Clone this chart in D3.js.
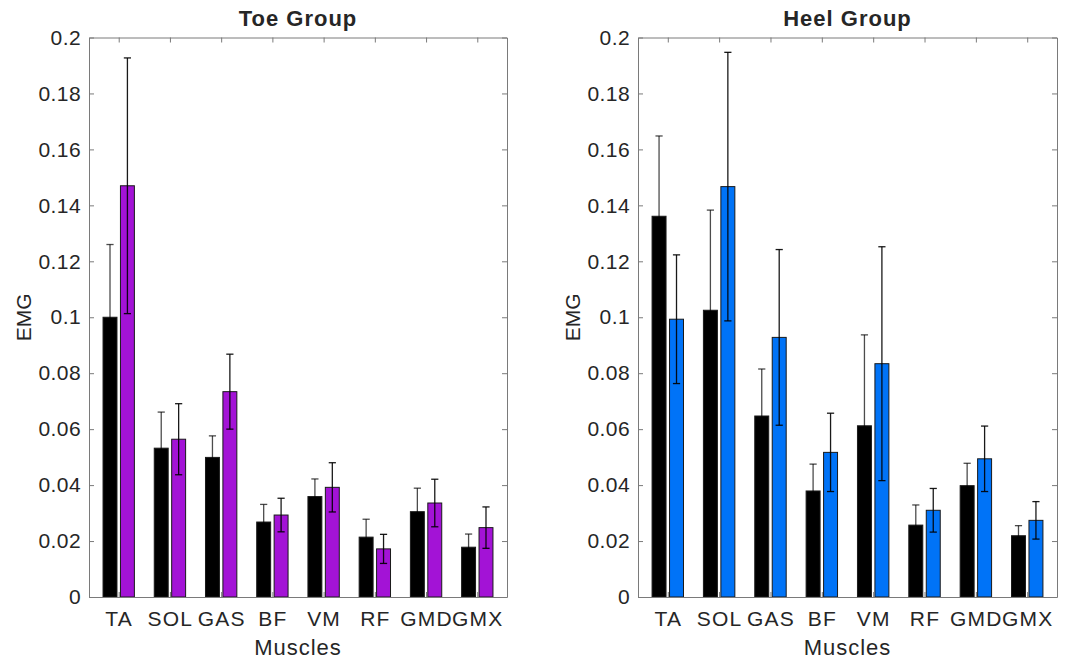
<!DOCTYPE html>
<html>
<head>
<meta charset="utf-8">
<script src="https://cdn.jsdelivr.net/npm/d3@7"></script>
<style>
  html, body { margin: 0; padding: 0; background: #fff; }
  svg { display: block; }
  text { font-family: Arial, "Liberation Sans", Helvetica, sans-serif; fill: #262626; }
</style>
</head>
<body>
<svg id="chart" width="1068" height="664"></svg>
<script>
// Muscle groups on the x axis
const muscles = ["TA", "SOL", "GAS", "BF", "VM", "RF", "GMD", "GMX"];
const yTicks = [0, 0.02, 0.04, 0.06, 0.08, 0.1, 0.12, 0.14, 0.16, 0.18, 0.2];

// Toe group: mean EMG and standard deviation, two conditions
const toeBlack    = [0.100, 0.0532, 0.0499, 0.0268, 0.0359, 0.0214, 0.0305, 0.0178];
const toeBlackSD  = [0.026, 0.0129, 0.0077, 0.0063, 0.0063, 0.0064, 0.0084, 0.0047];
const toePurple   = [0.147, 0.0564, 0.0734, 0.0293, 0.0392, 0.0172, 0.0336, 0.0248];
const toePurpleSD = [0.0457, 0.0127, 0.0134, 0.0060, 0.0088, 0.0052, 0.0085, 0.0074];

// Heel group: mean EMG and standard deviation, two conditions
const heelBlack   = [0.1361, 0.1025, 0.0647, 0.0379, 0.0612, 0.0257, 0.0398, 0.0219];
const heelBlackSD = [0.0287, 0.0358, 0.0168, 0.0096, 0.0325, 0.0072, 0.0080, 0.0036];
const heelBlue    = [0.0993, 0.1467, 0.0928, 0.0517, 0.0834, 0.0310, 0.0494, 0.0274];
const heelBlueSD  = [0.0230, 0.0480, 0.0314, 0.0140, 0.0418, 0.0078, 0.0117, 0.0067];

const svg = d3.select("#chart");
const yTop = 37.5, yBottom = 597;

function drawPanel(opts) {
  const { x0, x1, title, series } = opts;
  const g = svg.append("g");

  const x = d3.scaleLinear().domain([0.42, 8.58]).range([x0, x1]);
  const y = d3.scaleLinear().domain([0, 0.2]).range([yBottom, yTop]);
  const unit = x(2) - x(1);
  const barW = 0.272 * unit;
  const offs = [-0.17, 0.17];

  // white plot background
  g.append("rect").attr("x", x0).attr("y", yTop)
    .attr("width", x1 - x0).attr("height", yBottom - yTop).attr("fill", "#fff");

  // bars
  series.forEach((s, si) => {
    g.append("g").selectAll("rect").data(s.values).join("rect")
      .attr("x", (d, i) => x(i + 1 + offs[si]) - barW / 2)
      .attr("y", d => y(d))
      .attr("width", barW)
      .attr("height", d => y(0) - y(d))
      .attr("fill", s.color)
      .attr("stroke", "#1a1a1a")
      .attr("stroke-width", 1);
  });

  // error bars (black, semi-transparent so they read grey over white)
  series.forEach((s, si) => {
    const eg = g.append("g").attr("stroke", "#000").attr("stroke-opacity", s.errOpacity)
      .attr("stroke-width", 1.3).attr("fill", "none");
    s.values.forEach((v, i) => {
      const cx = x(i + 1 + offs[si]);
      const lo = y(v - s.sd[i]), hi = y(v + s.sd[i]);
      eg.append("line").attr("x1", cx).attr("x2", cx).attr("y1", lo).attr("y2", hi);
      eg.append("line").attr("x1", cx - 3.6).attr("x2", cx + 3.6).attr("y1", hi).attr("y2", hi);
      eg.append("line").attr("x1", cx - 3.6).attr("x2", cx + 3.6).attr("y1", lo).attr("y2", lo);
    });
  });

  const axisColor = "#7a7a7a";
  const fmt = d => d === 0 ? "0" : d3.format("")(+d.toFixed(2));

  // left y axis
  const yAxis = g.append("g").attr("transform", `translate(${x0},0)`)
    .call(d3.axisLeft(y).tickValues(yTicks).tickFormat(fmt).tickSizeInner(-5).tickSizeOuter(0).tickPadding(8));
  // right mirror ticks
  const yAxisR = g.append("g").attr("transform", `translate(${x1},0)`)
    .call(d3.axisRight(y).tickValues(yTicks).tickFormat("").tickSizeInner(-5).tickSizeOuter(0));
  // bottom x axis
  const xAxis = g.append("g").attr("transform", `translate(0,${yBottom})`)
    .call(d3.axisBottom(x).tickValues(d3.range(1, 9)).tickFormat(d => muscles[d - 1])
      .tickSizeInner(-5).tickSizeOuter(0).tickPadding(14));
  // top mirror ticks
  const xAxisT = g.append("g").attr("transform", `translate(0,${yTop})`)
    .call(d3.axisTop(x).tickValues(d3.range(1, 9)).tickFormat("").tickSizeInner(-5).tickSizeOuter(0));

  [yAxis, yAxisR, xAxis, xAxisT].forEach(a => {
    a.select(".domain").attr("stroke", axisColor).attr("stroke-width", 1);
    a.selectAll(".tick line").attr("stroke", axisColor).attr("stroke-width", 1);
    a.selectAll("text").attr("fill", "#262626").style("font-size", "21px")
      .style("font-family", "Arial, 'Liberation Sans', sans-serif");
  });
  yAxis.selectAll("text").style("letter-spacing", "0.4px");
  xAxis.selectAll("text").attr("dy", "0.71em").style("letter-spacing", "1.2px");

  // titles and axis labels
  g.append("text").attr("x", (x0 + x1) / 2).attr("y", 26)
    .attr("text-anchor", "middle").style("font-size", "22px").style("font-weight", "bold")
    .style("letter-spacing", "1px").attr("fill", "#000").text(title);
  g.append("text").attr("x", (x0 + x1) / 2).attr("y", 655)
    .attr("text-anchor", "middle").style("font-size", "22px").style("letter-spacing", "1px")
    .text("Muscles");
  g.append("text")
    .attr("transform", `translate(${x0 - 58},${(yTop + yBottom) / 2}) rotate(-90)`)
    .attr("text-anchor", "middle").style("font-size", "21px").text("EMG");
}

drawPanel({
  x0: 89, x1: 507, title: "Toe Group",
  series: [
    { values: toeBlack, sd: toeBlackSD, color: "#000000", errOpacity: 0.7 },
    { values: toePurple, sd: toePurpleSD, color: "#A313D6", errOpacity: 0.9 }
  ]
});

drawPanel({
  x0: 638, x1: 1057, title: "Heel Group",
  series: [
    { values: heelBlack, sd: heelBlackSD, color: "#000000", errOpacity: 0.7 },
    { values: heelBlue, sd: heelBlueSD, color: "#0073F7", errOpacity: 0.9 }
  ]
});
</script>
</body>
</html>
